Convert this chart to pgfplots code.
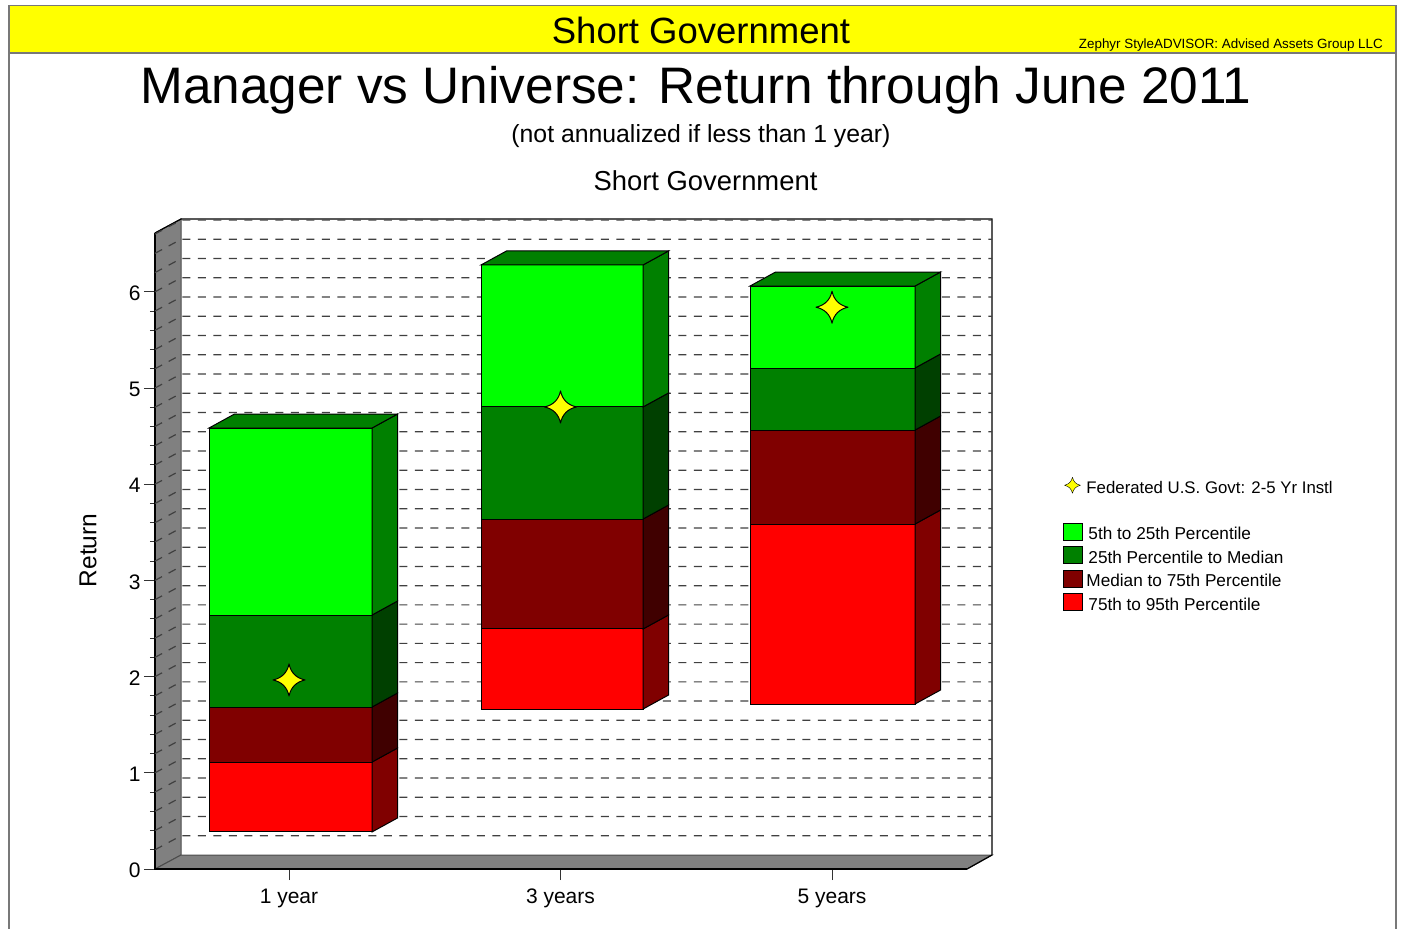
\documentclass[border=0pt]{standalone}
\usepackage{pgfplots}
\pgfplotsset{compat=1.18}
\usepackage{fontspec}
\setmainfont{Liberation Sans}

\definecolor{lime}{RGB}{0,255,0}
\definecolor{grn}{RGB}{0,128,0}
\definecolor{mrn}{RGB}{128,0,0}
\definecolor{rd}{RGB}{255,0,0}
\definecolor{ylw}{RGB}{255,255,0}
\definecolor{grnside}{RGB}{0,64,0}
\definecolor{mrnside}{RGB}{64,0,0}
\definecolor{wall}{RGB}{128,128,128}
\definecolor{frame}{RGB}{120,120,120}

\newcommand{\fs}[1]{\fontsize{#1}{#1}\selectfont}

% four pointed star
\pgfdeclareplotmark{star4}{%
  \pgfsetroundjoin
  \pgfpathmoveto{\pgfqpoint{0pt}{\pgfplotmarksize}}%
  \pgfpathquadraticcurveto{\pgfqpoint{0.18\pgfplotmarksize}{0.18\pgfplotmarksize}}{\pgfqpoint{\pgfplotmarksize}{0pt}}%
  \pgfpathquadraticcurveto{\pgfqpoint{0.18\pgfplotmarksize}{-0.18\pgfplotmarksize}}{\pgfqpoint{0pt}{-\pgfplotmarksize}}%
  \pgfpathquadraticcurveto{\pgfqpoint{-0.18\pgfplotmarksize}{-0.18\pgfplotmarksize}}{\pgfqpoint{-\pgfplotmarksize}{0pt}}%
  \pgfpathquadraticcurveto{\pgfqpoint{-0.18\pgfplotmarksize}{0.18\pgfplotmarksize}}{\pgfqpoint{0pt}{\pgfplotmarksize}}%
  \pgfpathclose
  \pgfusepathqfillstroke
}

\pgfplotsset{
  squarekey/.style={legend image code/.code={\draw[##1] (0pt,-5pt) rectangle (19pt,12pt); \path[draw=none, fill=none] (0pt,0pt) -- (25pt,0pt);}},
  starkey/.style={legend image code/.code={\draw[##1] plot coordinates {(9pt,6.5pt)}; \path[draw=none, fill=none] (0pt,0pt) -- (25pt,0pt);}},
}

% depth of the 3d effect in data units
\def\dx{0.0939}
\def\dy{0.1455}

% x left, x right, low, high, front colour, side colour
\newcommand{\barseg}[6]{%
  \pgfmathsetmacro\xb{#2+\dx}%
  \pgfmathsetmacro\lob{#3+\dy}%
  \pgfmathsetmacro\hib{#4+\dy}%
  \addplot[forget plot, draw=black, line width=1pt, fill=#5] coordinates {(#1,#3) (#2,#3) (#2,#4) (#1,#4)} --cycle;
  \addplot[forget plot, draw=black, line width=1pt, fill=#6] coordinates {(#2,#3) (\xb,\lob) (\xb,\hib) (#2,#4)} --cycle;
}
% x left, x right, high
\newcommand{\bartop}[3]{%
  \pgfmathsetmacro\xa{#1+\dx}%
  \pgfmathsetmacro\xb{#2+\dx}%
  \pgfmathsetmacro\hib{#3+\dy}%
  \addplot[forget plot, draw=black, line width=1pt, fill=grn] coordinates {(#1,#3) (#2,#3) (\xb,\hib) (\xa,\hib)} --cycle;
}

\begin{document}
\begin{tikzpicture}[x=1pt,y=-1pt]
\useasboundingbox (0,0) rectangle (1401,929);
% page frame and header band
\fill[ylw] (9,6) rectangle (1396,53);
\draw[frame, line width=1.5pt] (9,929) -- (9,5.5) -- (1396,5.5) -- (1396,929);
\draw[frame, line width=1.5pt] (9,53) -- (1396,53);
\node[anchor=base, inner sep=0pt] at (701,43) {\fs{36.5}Short Government};
\node[anchor=base east, inner sep=0pt] at (1383,48) {\fs{13.4}Zephyr StyleADVISOR: Advised Assets Group LLC};
\node[anchor=base, inner sep=0pt] at (696,103) {\fs{51.35}Manager vs Universe: Return through June 2011};
\node[anchor=base, inner sep=0pt] at (701,142) {\fs{24.8}(not annualized if less than 1 year)};
\coordinate (org) at (155,869);

\begin{axis}[
    at={(org)}, anchor=south west,
    scale only axis, width=837pt, height=650pt,
    xmin=-0.4936, xmax=2.5893, ymin=0, ymax=6.7568,
    clip=false,
    axis lines=left,
    axis line style={draw=none, -},
    xtick={0,1,2},
    xticklabels={1 year,3 years,5 years},
    ytick={0,1,2,3,4,5,6},
    minor y tick num=4,
    tick align=outside,
    tick style={black!80, line width=1pt},
    major tick length=11pt,
    minor tick length=5pt,
    xtick pos=lower, ytick pos=left,
    /pgf/number format/assume math mode=true,
    tick label style={font=\fs{21}},
    xticklabel style={yshift=-5pt, text height=15pt, text depth=5pt},
    yticklabel style={yshift=-1.5pt},
    ylabel={Return},
    y label style={at={(axis description cs:-0.08,0.49)}, anchor=center, font=\fs{24.5}},
    title={Short Government},
    title style={at={(axis description cs:0.6577,1)}, anchor=base, yshift=23pt, font=\fs{27.4}},
    legend style={at={(axis description cs:1.0849,0.6030)}, anchor=north west, draw=none, fill=none,
      inner sep=0pt, font=\fs{17.2}, row sep=2.8pt,
      cells={anchor=west},
      nodes={inner sep=0pt, text height=13pt, text depth=4pt}},
    legend cell align=left,
]
% legend keys first, all data plots below are forget plot
\addlegendimage{only marks, mark=star4, mark size=8pt, fill=ylw, draw=black, starkey}
\addlegendentry{\hspace{-2pt}\raisebox{3pt}{\fs{16.8}Federated U.S. Govt: 2-5 Yr Instl}}
\addlegendimage{empty legend}
\addlegendentry{}
\addlegendimage{fill=lime, draw=black, squarekey}
\addlegendentry{5th to 25th Percentile}
\addlegendimage{fill=grn, draw=black, squarekey}
\addlegendentry{25th Percentile to Median}
\addlegendimage{fill=mrn, draw=black, squarekey}
\addlegendentry{\hspace{-2pt}Median to 75th Percentile}
\addlegendimage{fill=rd, draw=black, squarekey}
\addlegendentry{75th to 95th Percentile}

% left wall and floor
\addplot[forget plot, draw=black!70, line width=1pt, fill=wall] coordinates {(-0.4936,0) (-0.3978,0.1455) (-0.3978,6.7568) (-0.4936,6.6113)} --cycle;
\addplot[forget plot, draw=black!70, line width=1pt, fill=wall] coordinates {(-0.4936,0) (2.4972,0) (2.5893,0.1455) (-0.3978,0.1455)} --cycle;
% front edge, bottom edge, outline of the back wall
\addplot[forget plot, black, line width=1.2pt] coordinates {(-0.4936,6.6113) (-0.4936,0) (2.4972,0)};
\addplot[forget plot, black, line width=1.2pt] coordinates {(-0.4936,6.6113) (-0.3978,6.7568) (2.5893,6.7568) (2.5893,0.1455) (2.4972,0)};

% dashed grid: across the wall, then along the back
\pgfplotsinvokeforeach{0.2,0.4,...,6.5}{
  \pgfmathsetmacro\gy{#1+\dy}
  \addplot[forget plot, black!75, line width=1.2pt, dash pattern=on 8pt off 7.5pt] coordinates {(-0.4936,#1) (-0.3978,\gy) (2.5893,\gy)};
}

% 1 year
\barseg{-0.2947}{0.3057}{0.385}{1.112}{rd}{mrn}
\barseg{-0.2947}{0.3057}{1.112}{1.684}{mrn}{mrnside}
\barseg{-0.2947}{0.3057}{1.684}{2.640}{grn}{grnside}
\barseg{-0.2947}{0.3057}{2.640}{4.584}{lime}{grn}
\bartop{-0.2947}{0.3057}{4.584}
% 3 years
\barseg{0.7072}{1.3039}{1.663}{2.495}{rd}{mrn}
\barseg{0.7072}{1.3039}{2.495}{3.638}{mrn}{mrnside}
\barseg{0.7072}{1.3039}{3.638}{4.803}{grn}{grnside}
\barseg{0.7072}{1.3039}{4.803}{6.279}{lime}{grn}
\bartop{0.7072}{1.3039}{6.279}
% 5 years
\barseg{1.6980}{2.3057}{1.715}{3.586}{rd}{mrn}
\barseg{1.6980}{2.3057}{3.586}{4.563}{mrn}{mrnside}
\barseg{1.6980}{2.3057}{4.563}{5.208}{grn}{grnside}
\barseg{1.6980}{2.3057}{5.208}{6.060}{lime}{grn}
\bartop{1.6980}{2.3057}{6.060}

% manager
\addplot[forget plot, only marks, mark=star4, mark size=16pt, fill=ylw, draw=black, line width=1pt]
  coordinates {(0,1.965) (1,4.803) (2,5.84)};
\end{axis}
\end{tikzpicture}
\end{document}
